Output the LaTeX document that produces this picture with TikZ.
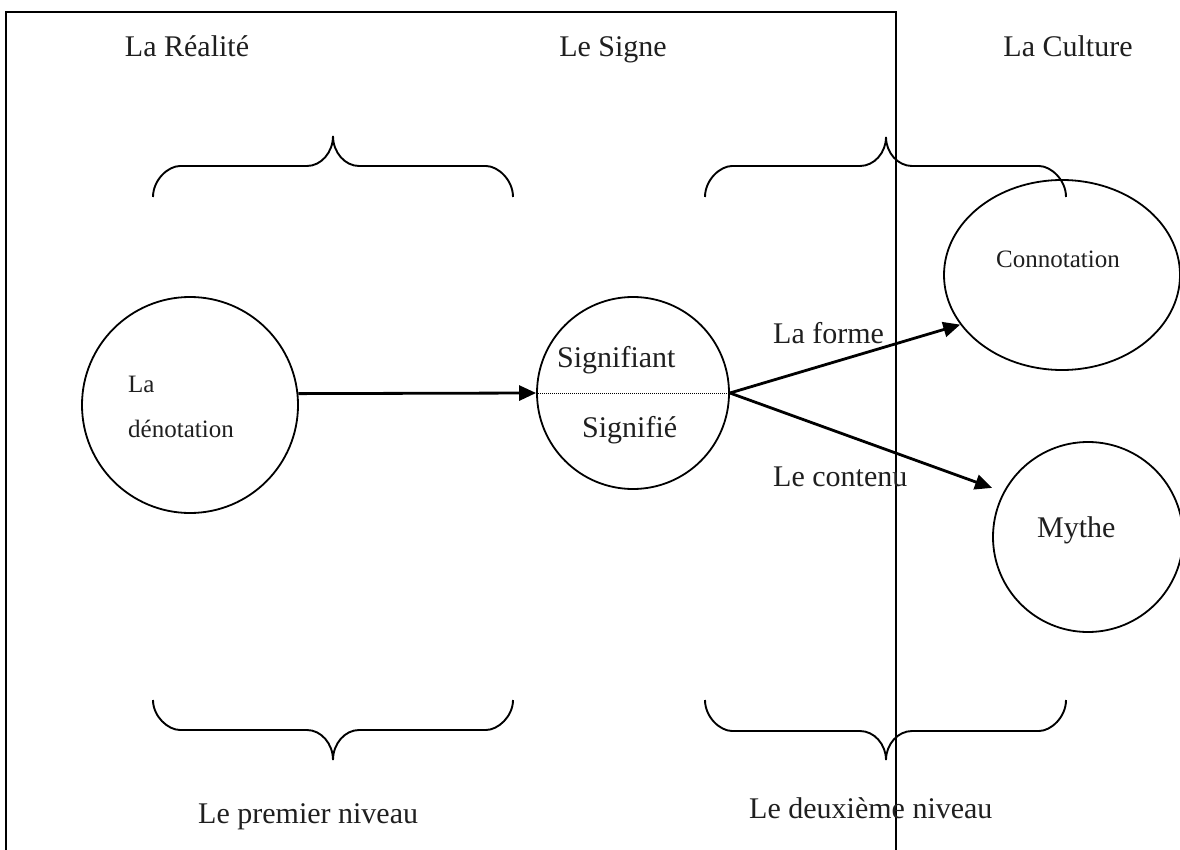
\documentclass[tikz,border=0pt]{standalone}
\usepackage{fontspec}
\setmainfont{Liberation Serif}
\usetikzlibrary{arrows.meta,shapes.geometric}
% x1 x2 xc yEnd yHoriz yTip
\newcommand\cbrace[6]{%
  \draw[bracestyle] (#1,#4) .. controls (#1,{#4+0.55*(#5-#4)}) and ({#1+15},#5) .. ({#1+27},#5)
    -- ({#3-26},#5) .. controls ({#3-12},#5) and (#3,{#5+0.45*(#6-#5)}) .. (#3,#6)
    .. controls (#3,{#5+0.45*(#6-#5)}) and ({#3+12},#5) .. ({#3+26},#5)
    -- ({#2-27},#5) .. controls ({#2-15},#5) and (#2,{#4+0.55*(#5-#4)}) .. (#2,#4);}
\begin{document}
\begin{tikzpicture}[x=1pt,y=-1pt,
  txt/.style={inner sep=0pt, text=black!88, font=\fontsize{30}{36}\selectfont},
  small/.style={inner sep=0pt, text=black!88, font=\fontsize{25}{30}\selectfont},
  circ/.style={circle, draw, line width=1.8pt, inner sep=0pt},
  ell/.style={ellipse, draw, line width=1.8pt, inner sep=0pt},
  arr/.style={-{Triangle[length=17pt,width=15pt]}, line width=2.8pt},
  bracestyle/.style={line width=1.9pt},
  frame/.style={line width=1.6pt},
  sep/.style={line width=1pt, dash pattern=on 1pt off 1pt}]
\useasboundingbox (0,0) rectangle (1180,850);
\fill[white] (0,0) rectangle (1180,850);
% frame
\draw[frame] (6,880) -- (6,12) -- (896,12) -- (896,880);
% titles
\node[txt, anchor=base] (t1) at (187,57) {La Réalité};
\node[txt, anchor=base] (t2) at (613,57) {Le Signe};
\node[txt, anchor=base] (t3) at (1068,57) {La Culture};
% braces
\cbrace{153}{513}{333}{197}{166}{136}
\cbrace{705}{1066}{886}{197}{166}{137}
\cbrace{153}{513}{333}{700}{730}{760}
\cbrace{705}{1066}{886}{700}{731}{760}
% circles
\node[circ, minimum size=216pt] (den) at (190,405) {};
\node[circ, minimum size=192pt] (sign) at (633,393) {};
\node[ell, minimum width=236pt, minimum height=190pt] (con) at (1062,275) {};
\node[circ, minimum size=190pt] (myth) at (1088,537) {};
\draw[sep] (sign.west) -- (sign.east);
% texts
\node[small, anchor=base west] (la) at (128,392) {La};
\node[small, anchor=base west] (deno) at (128,437) {dénotation};
\node[txt, anchor=base west] (sfiant) at (557,367) {Signifiant};
\node[txt, anchor=base west] (sfie) at (582,437) {Signifié};
\node[small, anchor=base west] (cont) at (996,268) {Connotation};
\node[txt, anchor=base west] (forme) at (773,343) {La forme};
\node[txt, anchor=base west] (contenu) at (773,486) {Le contenu};
\node[txt, anchor=base west] (mythe) at (1037,537) {Mythe};
\node[txt, anchor=base west] (n1) at (198,823) {Le premier niveau};
\node[txt, anchor=base west] (n2) at (749,818) {Le deuxième niveau};
% arrows
\draw[arr] (den.6.4) -- (sign.west);
\draw[arr] (sign.east) -- (con.206);
\draw[arr, shorten >=12pt] (sign.east) -- (myth.152);
\end{tikzpicture}
\end{document}
